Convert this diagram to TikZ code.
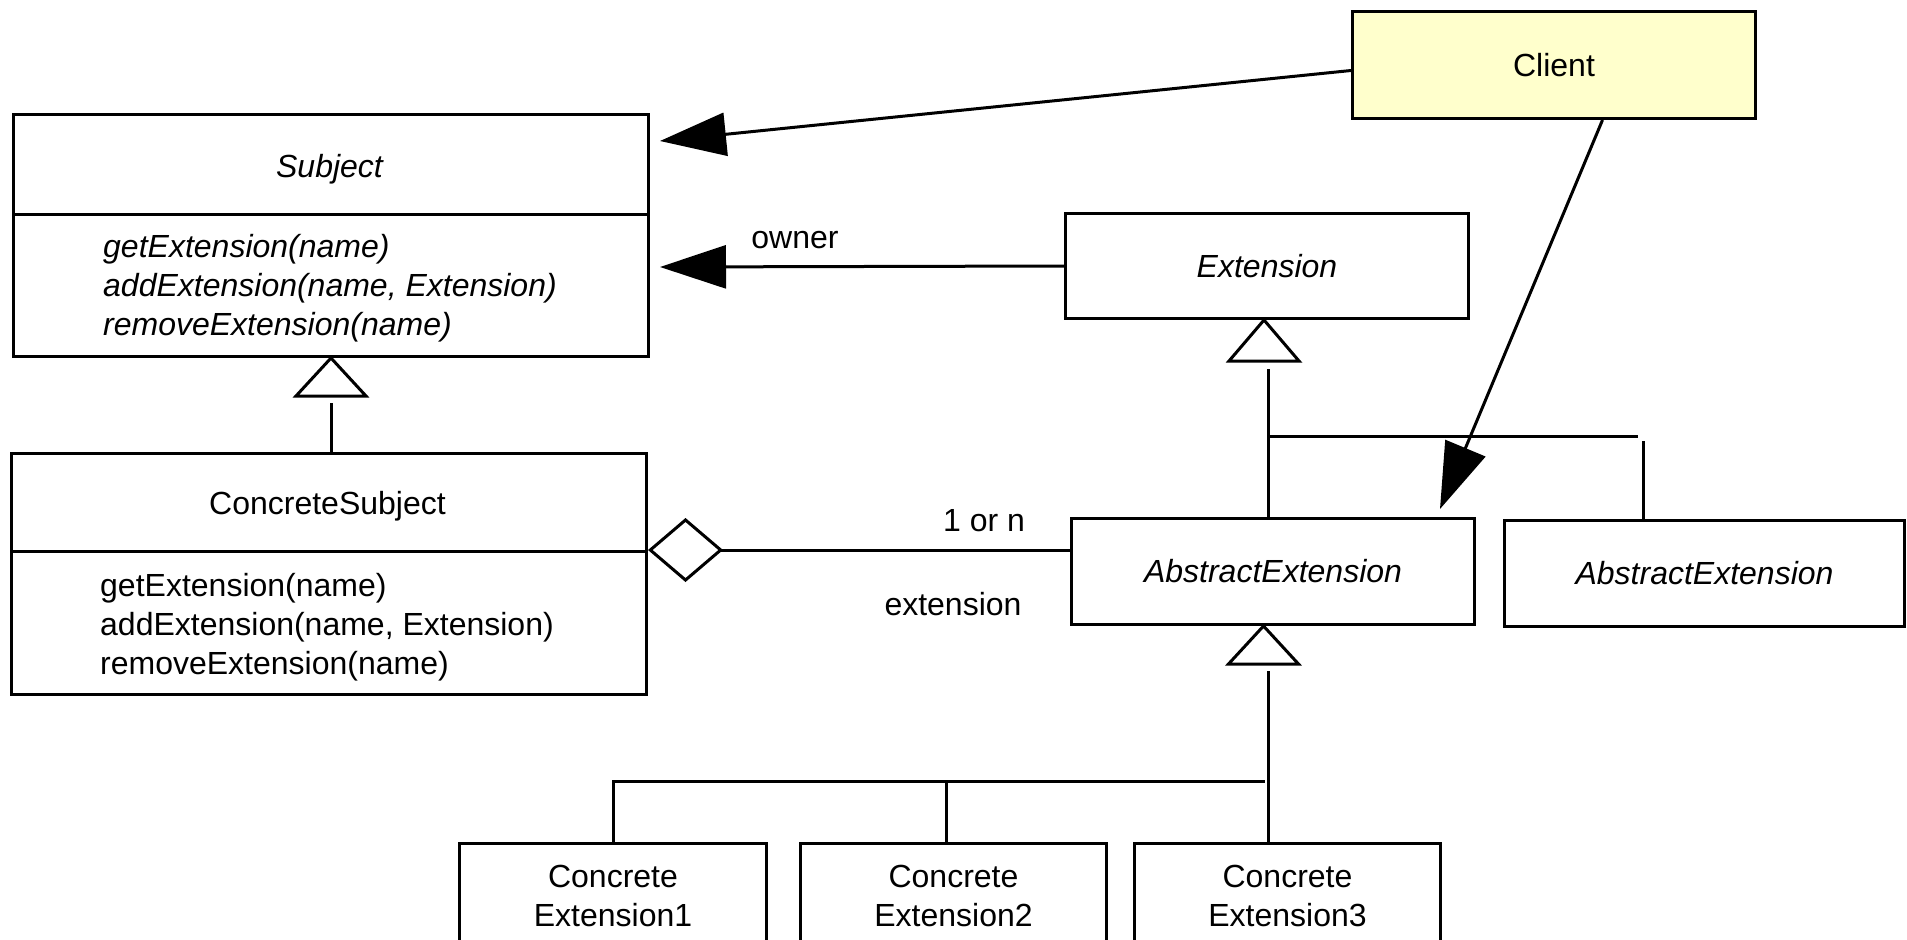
\documentclass[tikz,border=0pt]{standalone}
\usepackage{fontspec}
\setmainfont{Liberation Sans}
\usetikzlibrary{arrows.meta,calc}
\definecolor{clientyellow}{HTML}{FFFFCC}
\begin{document}
\begin{tikzpicture}[x=1pt,y=-1pt,
  font=\fontsize{32}{39}\selectfont,
  box/.style={draw, line width=3pt, anchor=north west, inner sep=0pt, align=center},
  lbl/.style={inner sep=0pt},
  itl/.style={font=\fontsize{32}{39}\selectfont\itshape},
  conn/.style={line width=3pt},
  head/.style={-{Triangle[length=66pt,width=43pt]}},
  gen/.style={line width=3pt, line join=miter, fill=white},
]
\clip (0,0) rectangle (1907,940);
\fill[white] (0,0) rectangle (1907,940);

% class boxes
\node[box, minimum width=635pt, minimum height=242pt] (subj) at (12,113) {};
\node[box, minimum width=635pt, minimum height=241pt] (csubj) at (10,452) {};
\node[box, fill=clientyellow, minimum width=403pt, minimum height=107pt] (client) at (1351,10) {Client};
\node[box, itl, minimum width=403pt, minimum height=105pt] (ext) at (1064,212) {Extension};
\node[box, itl, minimum width=403pt, minimum height=106pt] (abs1) at (1070,517) {AbstractExtension};
\node[box, itl, minimum width=400pt, minimum height=106pt] (abs2) at (1503,519) {AbstractExtension};
\node[box, minimum width=307pt, minimum height=104pt] (c1) at (458,842) {Concrete\\Extension1};
\node[box, minimum width=306pt, minimum height=104pt] (c2) at (799,842) {Concrete\\Extension2};
\node[box, minimum width=306pt, minimum height=104pt] (c3) at (1133,842) {Concrete\\Extension3};

% compartments
\draw[conn] ($(subj.north west)+(0,101)$) -- ($(subj.north east)+(0,101)$);
\draw[conn] ($(csubj.north west)+(0,99)$) -- ($(csubj.north east)+(0,99)$);
\node[lbl, itl] (subjname) at (329.5,169) {Subject};
\node[lbl, itl, anchor=west, align=left] (subjops) at (103,288)
  {getExtension(name)\\addExtension(name, Extension)\\removeExtension(name)};
\node[lbl] (csubjname) at (327.5,506) {ConcreteSubject};
\node[lbl, anchor=west, align=left] (csubjops) at (100,627)
  {getExtension(name)\\addExtension(name, Extension)\\removeExtension(name)};

% associations with filled heads
\coordinate (t1) at ($(subj.north east)+(10,28)$);
\coordinate (t2) at ($(subj.north east)+(10,154)$);
\draw[conn, head] ($(client.west)+(0,5.5)$) -- (t1);
\draw[conn, head] (ext.west) -- (t2);
\node[lbl] (owner) at (795,240) {owner};
\coordinate (cs) at ($(client.south)+(48.5,0)$);
\coordinate (t3) at ($(abs1.north east)+(-36,-8)$);
\draw[conn, head] (cs) -- (t3);

% aggregation
\coordinate (ds) at ($(csubj.north east)+(0,98)$);
\draw[conn, {Diamond[open,length=75pt,width=64pt]}-] (ds) -- (abs1.west |- ds);
\node[lbl] (mult) at (984,521) {1 or n};
\node[lbl] (role) at (953,604) {extension};

% generalization: Subject
\coordinate (g1) at (subj.south);
\draw[gen] (g1) -- ++(-35,38) -- ++(70,0) -- cycle;
\draw[conn] ($(g1)+(0,45)$) -- (g1 |- csubj.north);

% generalization: Extension
\coordinate (g2) at ($(ext.south)+(-3,0)$);
\draw[gen] (g2) -- ++(-35,41) -- ++(70,0) -- cycle;
\coordinate (e1) at ($(ext.south)+(1.5,49)$);
\draw[conn] (e1) -- (e1 |- abs1.north);
\coordinate (br) at ($(abs2.north west)+(140,-83)$);
\draw[conn] (e1 |- br) -- ($(br)+(-5,0)$);
\draw[conn] ($(br)+(0,5)$) -- (br |- abs2.north);

% generalization: AbstractExtension
\coordinate (g3) at ($(abs1.south)+(-9.5,0)$);
\draw[gen] (g3) -- ++(-35,38) -- ++(70,0) -- cycle;
\coordinate (a1) at ($(abs1.south)+(-4.5,45)$);
\draw[conn] (a1) -- (a1 |- c3.north);
\coordinate (hb) at ($(a1)+(-4,110)$);
\coordinate (v1) at ($(c1.north west)+(155,0)$);
\coordinate (v2) at ($(c2.north west)+(147,0)$);
\draw[conn] (hb) -- (v1 |- hb) -- (v1);
\draw[conn] (v2 |- hb) -- (v2);
\end{tikzpicture}
\end{document}
